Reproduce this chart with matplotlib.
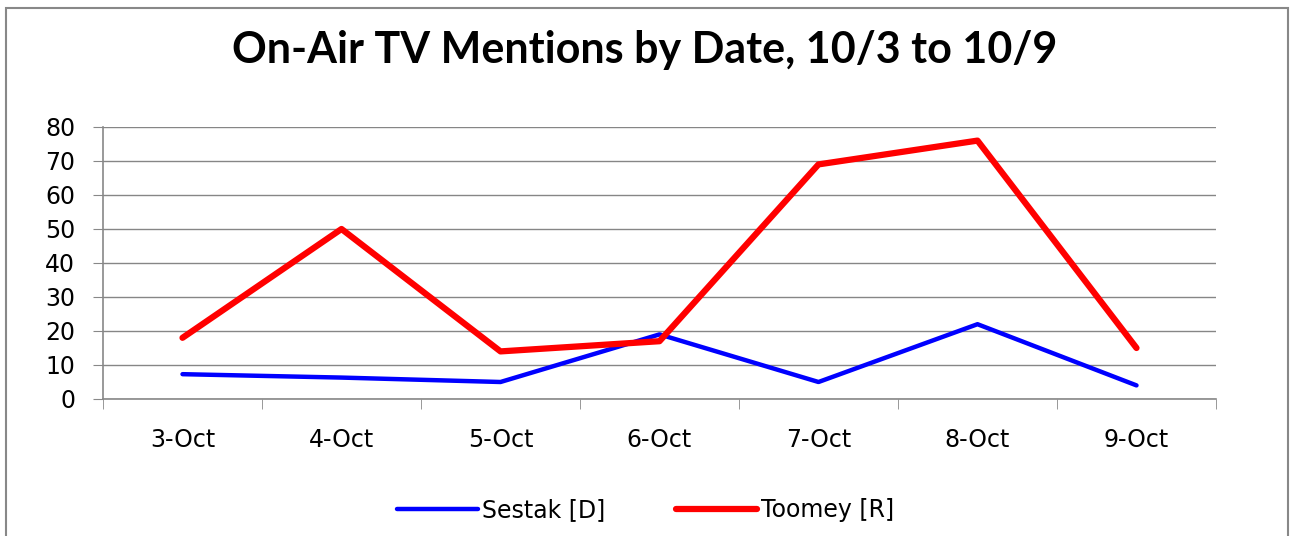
import numpy as np
import matplotlib.pyplot as plt
from matplotlib.patches import Rectangle

dates = ['3-Oct', '4-Oct', '5-Oct', '6-Oct', '7-Oct', '8-Oct', '9-Oct']
sestak = [7.3, 6.3, 5, 19, 5, 22, 4]
toomey = [18, 50, 14, 17, 69, 76, 15]
yticks = [0, 10, 20, 30, 40, 50, 60, 70, 80]

W, H = 1291, 536
fig = plt.figure(figsize=(W / 100, H / 100), dpi=100)
ax = fig.add_axes([103 / W, 1 - 399 / H, (1216 - 103) / W, (399 - 127) / H])

x = np.arange(len(dates))
ax.plot(x, sestak, color='#0000ff', lw=3.2, solid_capstyle='round', solid_joinstyle='round',
        label='Sestak [D]', zorder=3)
ax.plot(x, toomey, color='#ff0000', lw=4.5, solid_capstyle='round', solid_joinstyle='round',
        label='Toomey [R]', zorder=4)

ax.set_xlim(-0.5, len(dates) - 0.5)
ax.set_ylim(0, 80)
ax.set_yticks(yticks)
ax.set_xticks(x)
ax.set_xticklabels(dates)
ax.set_xticks(np.arange(-0.5, len(dates)), minor=True)
ax.tick_params(axis='x', which='major', length=0, pad=21, labelsize=17)
ax.tick_params(axis='x', which='minor', length=7, color='#888888', direction='out')
ax.tick_params(axis='y', length=7, color='#888888', direction='out', pad=13, labelsize=17)
ax.grid(axis='y', color='#868686', lw=1)
ax.set_axisbelow(True)
for s in ['top', 'right']:
    ax.spines[s].set_visible(False)
for s in ['left', 'bottom']:
    ax.spines[s].set_color('#888888')
    ax.spines[s].set_linewidth(1.2)

fig.text(645 / W, 1 - 50 / H, 'On-Air TV Mentions by Date, 10/3 to 10/9',
         ha='center', va='center', fontsize=31, fontweight='bold', family='Lato')

fig.legend(loc='center', bbox_to_anchor=(646 / W, 1 - 510 / H), ncol=2, frameon=False,
           fontsize=17, handlelength=3.4, handletextpad=0.2, columnspacing=3.0)

fig.patches.append(Rectangle((6 / W, -0.1), (1288 - 6) / W, 1.1 - 8 / H,
                             transform=fig.transFigure, fill=False,
                             edgecolor='#888888', lw=1.5))

fig.savefig('out.png', dpi=100)
